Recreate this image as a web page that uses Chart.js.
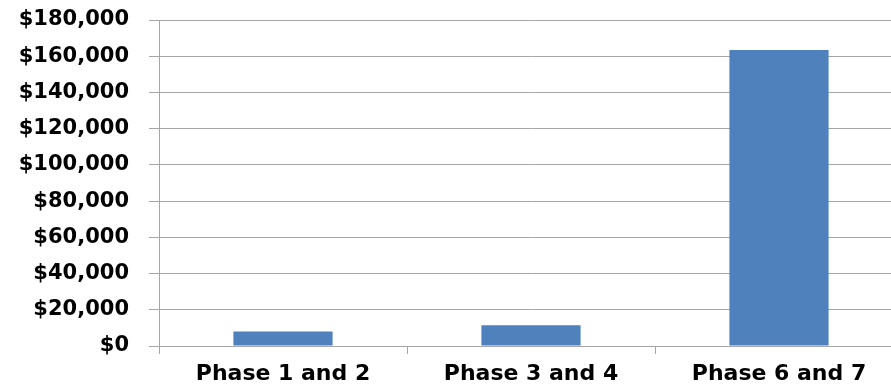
<!DOCTYPE html>
<html>
<head>
<meta charset="utf-8">
<script src="https://cdn.jsdelivr.net/npm/chart.js@4/dist/chart.umd.min.js"></script>
<style>
  html, body { margin: 0; padding: 0; background: #fff; overflow: hidden; }
  #wrap { width: 891px; height: 386px; overflow: hidden; }
</style>
</head>
<body>
<div id="wrap"><canvas id="chart" width="903" height="386"></canvas></div>
<script>
// chart data
const categories = ["Phase 1 and 2", "Phase 3 and 4", "Phase 6 and 7"];
const costs = [8000, 11500, 163500];
const yTicks = [0, 20000, 40000, 60000, 80000, 100000, 120000, 140000, 160000, 180000];

const barColor = "#4F81BD";
const gridColor = "#A6A6A6";
const yFont = { family: "'DejaVu Sans', sans-serif", size: 21, weight: "bold" };
const xFont = { family: "'DejaVu Sans', sans-serif", size: 22, weight: "bold" };

const money = v => "$" + v.toLocaleString("en-US");

new Chart(document.getElementById("chart"), {
  type: "bar",
  data: {
    labels: categories,
    datasets: [{
      data: costs,
      backgroundColor: barColor,
      borderWidth: 0,
      barPercentage: 0.4,
      categoryPercentage: 1,
    }],
  },
  options: {
    responsive: false,
    animation: false,
    layout: { padding: { top: 20, left: 0, right: 0, bottom: 0 } },
    plugins: {
      legend: { display: false },
      tooltip: { enabled: false },
    },
    scales: {
      y: {
        min: 0,
        max: 180000,
        afterBuildTicks: scale => { scale.ticks = yTicks.map(v => ({ value: v })); },
        afterFit: scale => {
          scale.width = 159;
          scale.paddingTop = 0;
          scale.paddingBottom = 0;
        },
        ticks: { color: "#000", font: yFont, padding: 20, callback: v => money(v) },
        grid: { color: gridColor, lineWidth: 1, tickLength: 10 },
        border: { color: gridColor, width: 1 },
      },
      x: {
        afterFit: scale => {
          scale.height = 40;
          scale.paddingLeft = 0;
          scale.paddingRight = 0;
        },
        ticks: { color: "#000", font: xFont, padding: 7, maxRotation: 0 },
        grid: { drawOnChartArea: false, drawTicks: true, tickLength: 8, color: gridColor, offset: true },
        border: { color: gridColor, width: 1 },
      },
    },
  },
});
</script>
</body>
</html>
